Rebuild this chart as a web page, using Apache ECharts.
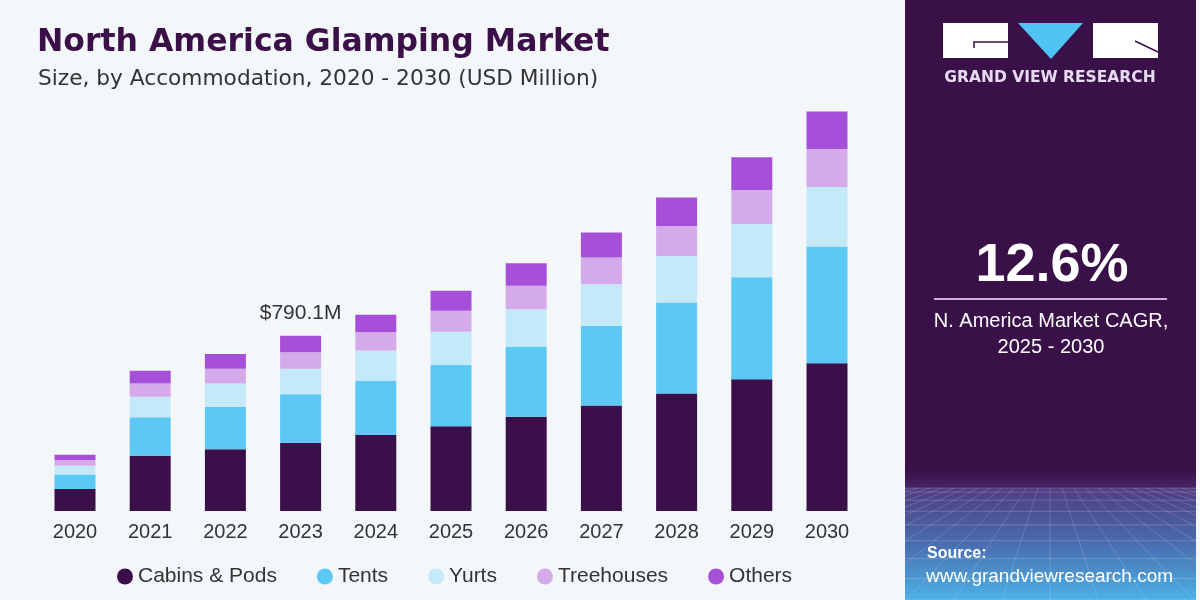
<!DOCTYPE html>
<html>
<head>
<meta charset="utf-8">
<script src="https://cdn.jsdelivr.net/npm/echarts@6.0.0/dist/echarts.min.js"></script>
<style>
  html, body { margin: 0; padding: 0; background: #f3f7fa; }
  #main { width: 1200px; height: 600px; }
</style>
</head>
<body>
<div id="main"></div>
<script>
// data (USD Million)
var years = ["2020", "2021", "2022", "2023", "2024", "2025", "2026", "2027", "2028", "2029", "2030"];
var cabinsPods = [99, 249, 278, 308, 343, 382, 425, 475, 530, 594, 666];
var tents = [66, 173, 192, 218, 243, 276, 314, 359, 410, 460, 526];
var yurts = [39, 93, 105, 115, 137, 150, 170, 188, 209, 240, 268];
var treehouses = [26, 60, 66, 74, 83, 95, 106, 120, 135, 153, 171];
var others = [24, 57, 66, 75, 78, 90, 101, 113, 129, 147, 169];
var calloutYear = "2023";
var calloutText = "$790.1M";

var myChart = echarts.init(document.getElementById("main"));

// label only the callout year on top of the stack
var othersData = others.map(function (v, i) {
  if (years[i] === calloutYear) {
    return {
      value: v,
      label: {
        show: true,
        position: "top",
        distance: 12,
        formatter: calloutText,
        color: "#333",
        fontSize: 21,
        fontFamily: "Liberation Sans",
      },
    };
  }
  return v;
});

function mkSeries(name, data, color) {
  return {
    name: name,
    type: "bar",
    stack: "total",
    barWidth: 41,
    itemStyle: { color: color },
    emphasis: { disabled: true },
    data: data,
  };
}

// perspective grid texture for the bottom of the side panel
var texture = [];
var panelL = 905, panelR = 1196, top0 = 488;
for (var k = 0; k < 9; k++) {
  var yy = top0 + Math.pow(k / 8, 1.6) * 112;
  texture.push({
    type: "line",
    shape: { x1: panelL, y1: yy, x2: panelR, y2: yy },
    style: { stroke: "rgba(255,255,255,0.18)", lineWidth: 1 },
    silent: true,
  });
}
for (var j = -14; j <= 14; j++) {
  texture.push({
    type: "line",
    shape: { x1: 1050 + j * 12, y1: top0, x2: 1050 + j * 48, y2: 600 },
    style: { stroke: "rgba(255,255,255,0.16)", lineWidth: 1 },
    silent: true,
  });
}

var option = {
  backgroundColor: "#f3f7fa",
  animation: false,
  title: [
    {
      text: "North America Glamping Market",
      left: 32,
      top: 22,
      textStyle: {
        color: "#3b1048",
        fontSize: 31.5,
        fontWeight: "bold",
        fontFamily: "DejaVu Sans",
      },
    },
    {
      text: "Size, by Accommodation, 2020 - 2030 (USD Million)",
      left: 33,
      top: 63,
      textStyle: {
        color: "#333",
        fontSize: 21.7,
        fontWeight: "normal",
        fontFamily: "DejaVu Sans",
      },
    },
  ],
  legend: {
    left: 112,
    top: 561,
    itemGap: 40,
    icon: "circle",
    itemWidth: 16,
    itemHeight: 16,
    textStyle: { color: "#333", fontSize: 21, fontFamily: "Liberation Sans" },
    selectedMode: false,
  },
  grid: {
    left: 37.4,
    right: 335.4,
    top: 111.6,
    bottom: 89,
  },
  xAxis: {
    type: "category",
    data: years,
    axisLine: { show: false },
    axisTick: { show: false },
    axisLabel: {
      color: "#333",
      fontSize: 20,
      margin: 11,
      fontFamily: "Liberation Sans",
    },
  },
  yAxis: {
    type: "value",
    min: 0,
    max: 1800,
    show: false,
    splitLine: { show: false },
  },
  series: [
    mkSeries("Cabins & Pods", cabinsPods, "#3b0f4a"),
    mkSeries("Tents", tents, "#5bc8f5"),
    mkSeries("Yurts", yurts, "#c4e9f9"),
    mkSeries("Treehouses", treehouses, "#d4aaea"),
    mkSeries("Others", othersData, "#a64fd8"),
  ],
  graphic: [
    // side panel
    {
      type: "rect",
      shape: { x: 905, y: 0, width: 291, height: 600 },
      style: { fill: "#3a1049" },
      silent: true,
    },
    {
      type: "rect",
      shape: { x: 905, y: 488, width: 291, height: 112 },
      style: {
        fill: new echarts.graphic.LinearGradient(0, 0, 0, 1, [
          { offset: 0, color: "#4f3c82" },
          { offset: 0.5, color: "#4a6db0" },
          { offset: 1, color: "#4cb2e6" },
        ]),
      },
      silent: true,
    },
    {
      type: "rect",
      shape: { x: 905, y: 470, width: 291, height: 18 },
      style: {
        fill: new echarts.graphic.LinearGradient(0, 0, 0, 1, [
          { offset: 0, color: "#3a1049" },
          { offset: 1, color: "#432466" },
        ]),
      },
      silent: true,
    },
    { type: "group", children: texture, silent: true },
    // logo
    {
      type: "rect",
      shape: { x: 943, y: 23, width: 65, height: 35 },
      style: { fill: "#ffffff" },
      silent: true,
    },
    {
      type: "polyline",
      shape: { points: [[1008, 42], [974, 42], [974, 48]] },
      style: { stroke: "#3a1049", lineWidth: 1.5, fill: null },
      silent: true,
    },
    {
      type: "polygon",
      shape: { points: [[1018, 23], [1083, 23], [1051, 59]] },
      style: { fill: "#4fc3f2" },
      silent: true,
    },
    {
      type: "rect",
      shape: { x: 1093, y: 23, width: 65, height: 35 },
      style: { fill: "#ffffff" },
      silent: true,
    },
    {
      type: "line",
      shape: { x1: 1135, y1: 41, x2: 1158, y2: 52 },
      style: { stroke: "#3a1049", lineWidth: 1.5 },
      silent: true,
    },
    {
      type: "text",
      x: 1050,
      y: 78,
      style: {
        text: "GRAND VIEW RESEARCH",
        fill: "#e6dcef",
        font: "bold 15.5px 'DejaVu Sans'",
        align: "center",
        verticalAlign: "middle",
      },
      silent: true,
    },
    // CAGR block
    {
      type: "text",
      x: 1052,
      y: 266,
      style: {
        text: "12.6%",
        fill: "#ffffff",
        font: "bold 54px 'Liberation Sans'",
        align: "center",
        verticalAlign: "middle",
      },
      silent: true,
    },
    {
      type: "line",
      shape: { x1: 934, y1: 299, x2: 1167, y2: 299 },
      style: { stroke: "#c9b3dc", lineWidth: 2 },
      silent: true,
    },
    {
      type: "text",
      x: 1051,
      y: 321,
      style: {
        text: "N. America Market CAGR,",
        fill: "#ffffff",
        font: "20px 'Liberation Sans'",
        align: "center",
        verticalAlign: "middle",
      },
      silent: true,
    },
    {
      type: "text",
      x: 1051,
      y: 347,
      style: {
        text: "2025 - 2030",
        fill: "#ffffff",
        font: "20px 'Liberation Sans'",
        align: "center",
        verticalAlign: "middle",
      },
      silent: true,
    },
    // source
    {
      type: "text",
      x: 927,
      y: 554,
      style: {
        text: "Source:",
        fill: "#ffffff",
        font: "bold 16px 'Liberation Sans'",
        verticalAlign: "middle",
      },
      silent: true,
    },
    {
      type: "text",
      x: 926,
      y: 577,
      style: {
        text: "www.grandviewresearch.com",
        fill: "#ffffff",
        font: "19px 'Liberation Sans'",
        verticalAlign: "middle",
      },
      silent: true,
    },
  ],
};

myChart.setOption(option);
window.addEventListener("resize", function () {
  myChart.resize();
});
</script>
</body>
</html>
